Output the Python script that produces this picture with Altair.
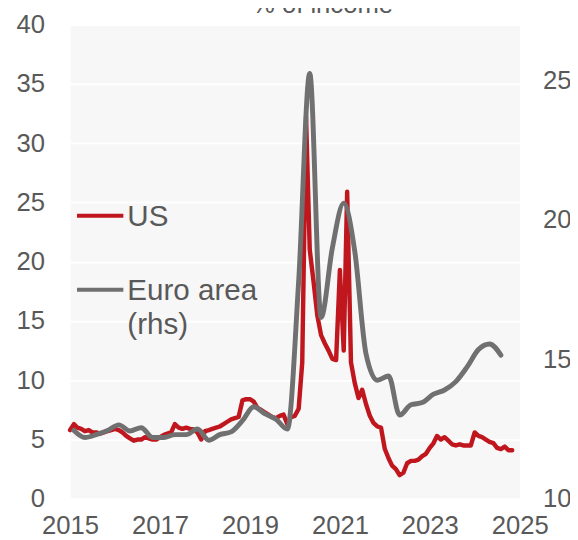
import altair as alt
import pandas as pd

# ---- data ----
us_values = [
    5.8, 6.3, 6.0, 5.9, 5.7, 5.8, 5.6, 5.6, 5.5, 5.6, 5.7, 5.8,
    5.9, 5.8, 5.6, 5.3, 5.1, 4.9, 5.0, 5.0, 5.2, 5.1, 5.0, 5.0,
    5.2, 5.4, 5.5, 5.6, 6.3, 6.0, 5.9, 6.0, 5.9, 5.85, 5.6, 5.0,
    5.7, 5.8, 5.9, 6.0, 6.1, 6.3, 6.5, 6.7, 6.8, 6.9, 8.3, 8.4,
    8.4, 8.2, 7.7, 7.5, 7.3, 7.1, 6.9, 6.8, 7.0, 7.1, 6.3, 6.9,
    7.0, 7.6, 11.5, 32.2, 21.0, 18.3, 15.5, 13.8, 13.1, 12.5, 11.8, 11.7,
    19.3, 12.5, 25.9, 11.5, 9.8, 8.5, 9.2, 8.0, 7.0, 6.4, 6.1, 6.0,
    4.2, 3.4, 2.8, 2.5, 2.0, 2.2, 3.0, 3.2, 3.2, 3.3, 3.6, 3.8,
    4.3, 4.7, 5.3, 5.0, 5.2, 4.9, 4.6, 4.5, 4.6, 4.5, 4.5, 4.5,
    5.6, 5.3, 5.2, 5.0, 4.8, 4.7, 4.3, 4.2, 4.4, 4.1, 4.1,
]
ea_values = [
    12.45, 12.2, 12.3, 12.45, 12.65, 12.43, 12.55, 12.2, 12.2, 12.3,
    12.3, 12.5, 12.1, 12.3, 12.4, 12.8, 13.3, 13.05, 12.85, 12.5,
    17.8, 25.25, 16.5, 19.0, 20.6, 18.9, 15.2, 14.25, 14.4, 13.0,
    13.37, 13.45, 13.75, 13.9, 14.2, 14.73, 15.35, 15.55, 15.15,
]
x_tick_years = [2015, 2017, 2019, 2021, 2023, 2025]
left_ticks = [0, 5, 10, 15, 20, 25, 30, 35, 40]
right_ticks = [10, 15, 20, 25]
legend_us = ["US"]
legend_ea = ["Euro area"]
legend_ea2 = ["(rhs)"]
title_text = ["% of income"]

us_dates = pd.date_range("2015-01-01", periods=len(us_values), freq="MS")
ea_dates = pd.date_range("2015-02-01", periods=len(ea_values), freq="3MS")
us_df = pd.DataFrame({"date": us_dates, "value": us_values})
ea_df = pd.DataFrame({"date": ea_dates, "value": ea_values})

FONT = "Liberation Sans"
TXT = "#595959"
RED = "#C0171E"
GRAY = "#707070"

x_enc = alt.X(
    "date:T",
    title=None,
    scale=alt.Scale(domain=[alt.DateTime(year=2015, month=1, date=1),
                            alt.DateTime(year=2025, month=1, date=1)]),
    axis=alt.Axis(
        values=[alt.DateTime(year=y, month=1, date=1) for y in x_tick_years],
        format="%Y", labelFontSize=26, labelColor=TXT, labelFont=FONT,
        labelFlush=False, labelOverlap=False, labelPadding=14,
        domain=False, ticks=False, grid=False,
    ),
)

us_line = alt.Chart(us_df).mark_line(
    color=RED, strokeWidth=4.5, strokeJoin="round", strokeCap="round"
).encode(
    x=x_enc,
    y=alt.Y(
        "value:Q", title=None,
        scale=alt.Scale(domain=[0, 40], nice=False, zero=False),
        axis=alt.Axis(
            orient="left", values=left_ticks, labelFontSize=26, labelColor=TXT,
            labelFont=FONT, labelPadding=26, domain=False, ticks=False,
            grid=True, gridColor="white", gridWidth=2,
        ),
    ),
)

ea_line = alt.Chart(ea_df).mark_line(
    color=GRAY, strokeWidth=5, strokeJoin="round", strokeCap="round",
    interpolate="monotone",
).encode(
    x=x_enc,
    y=alt.Y(
        "value:Q", title=None,
        scale=alt.Scale(domain=[10, 27], nice=False, zero=False),
        axis=alt.Axis(
            orient="right", values=right_ticks, labelFontSize=26, labelColor=TXT,
            labelFont=FONT, labelPadding=23, domain=False, ticks=False, grid=False,
        ),
    ),
)

one = pd.DataFrame({"k": [0]})
leg_rule_us = alt.Chart(one).mark_rule(color=RED, strokeWidth=4).encode(
    x=alt.value(7), x2=alt.value(54), y=alt.value(194))
leg_rule_ea = alt.Chart(one).mark_rule(color=GRAY, strokeWidth=4).encode(
    x=alt.value(7), x2=alt.value(54), y=alt.value(269))

def text_layer(lbl, x, y, size, align="left"):
    return alt.Chart(pd.DataFrame({"label": lbl})).mark_text(
        align=align, baseline="alphabetic", fontSize=size, font=FONT, color=TXT
    ).encode(text="label:N", x=alt.value(x), y=alt.value(y))

chart = alt.layer(
    us_line, ea_line, leg_rule_us, leg_rule_ea,
    text_layer(legend_us, 58, 204, 30),
    text_layer(legend_ea, 58, 279, 30),
    text_layer(legend_ea2, 58, 314, 30),
    text_layer(title_text, 256, -12, 26, align="center"),
).resolve_scale(y="independent").properties(
    width=456, height=481,
    padding={"left": 63, "top": 13, "right": 51, "bottom": 40},
    autosize=alt.AutoSizeParams(type="none"),
).configure_view(fill="#F7F7F7", stroke="transparent")

chart.save("out.html", embed_options={"renderer": "svg", "actions": False})
